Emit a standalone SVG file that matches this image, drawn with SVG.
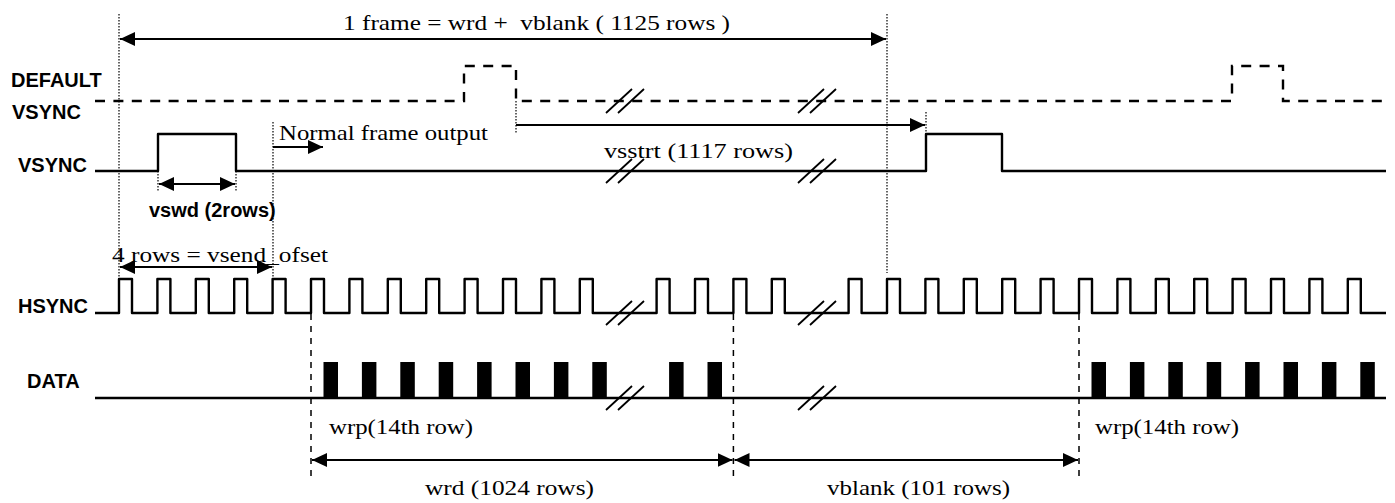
<svg xmlns="http://www.w3.org/2000/svg" width="1395" height="503" viewBox="0 0 1395 503">
<style>
.sig{fill:none;stroke:#000;stroke-width:2.4;stroke-linejoin:round}
.dsig{fill:none;stroke:#000;stroke-width:2.4;stroke-dasharray:10 8.4}
.dot{fill:none;stroke:#000;stroke-width:1.2;stroke-dasharray:1.5 1.5}
.dash{fill:none;stroke:#000;stroke-width:1.5;stroke-dasharray:6 6}
.arr{fill:none;stroke:#000;stroke-width:2}
.brk{fill:none;stroke:#000;stroke-width:1.8}
.lbl{font-family:"Liberation Sans",Arial,sans-serif;font-weight:bold;font-size:20px;fill:#000}
.txt{font-family:"Liberation Serif","Times New Roman",serif;font-size:22px;fill:#000;white-space:pre}
.bar{fill:#000}
</style>
<defs>
<marker id="ah" markerUnits="userSpaceOnUse" markerWidth="16" markerHeight="14" refX="15" refY="7" orient="auto-start-reverse">
<path d="M0,0 L15,7 L0,14 z" fill="#000"/>
</marker>
</defs>

<g id="labels">
<text class="lbl" x="11" y="87">DEFAULT</text>
<text class="lbl" x="12" y="119">VSYNC</text>
<text class="lbl" x="18" y="172">VSYNC</text>
<text class="lbl" x="18" y="313">HSYNC</text>
<text class="lbl" x="27" y="388">DATA</text>
</g>

<g id="guides">
<line class="dot" x1="119" y1="14" x2="119" y2="277"/>
<line class="dot" x1="887" y1="14" x2="887" y2="273"/>
<line class="dot" x1="273" y1="122" x2="273" y2="277"/>
<line class="dot" x1="158" y1="171" x2="158" y2="192"/>
<line class="dot" x1="236" y1="171" x2="236" y2="192"/>
<line class="dot" x1="516" y1="101" x2="516" y2="133"/>
<line class="dot" x1="926" y1="112" x2="926" y2="134"/>
<line class="dash" x1="311" y1="314" x2="311" y2="476"/>
<line class="dash" x1="733.4" y1="314" x2="733.4" y2="476"/>
<line class="dash" x1="1079" y1="314" x2="1079" y2="476"/>
</g>

<g id="default-vsync">
<path class="dsig" d="M95,101 H464 V66 H516 V101 H1232 V66 H1283 V101 H1386"/>
</g>

<g id="vsync">
<path class="sig" d="M95,171 H158 V134 H236 V171 H926 V134 H1002 V171 H1386"/>
</g>

<g id="hsync">
<path class="sig" d="M95,313 H119 V279 H132 V313 H157.4 V279 H170.4 V313 H195.8 V279 H208.8 V313 H234.2 V279 H247.2 V313 H272.6 V279 H285.6 V313 H311 V279 H324 V313 H349.4 V279 H362.4 V313 H387.8 V279 H400.8 V313 H426.2 V279 H439.2 V313 H464.6 V279 H477.6 V313 H503 V279 H516 V313 H541.4 V279 H554.4 V313 H579.8 V279 H592.8 V313 H656.6 V279 H669.6 V313 H695 V279 H708 V313 H733.4 V279 H746.4 V313 H771.8 V279 H784.8 V313 H848.6 V279 H861.6 V313 H887 V279 H900 V313 H925.4 V279 H938.4 V313 H963.8 V279 H976.8 V313 H1002.2 V279 H1015.2 V313 H1040.6 V279 H1053.6 V313 H1079 V279 H1092 V313 H1117.4 V279 H1130.4 V313 H1155.8 V279 H1168.8 V313 H1194.2 V279 H1207.2 V313 H1232.6 V279 H1245.6 V313 H1271 V279 H1284 V313 H1309.4 V279 H1322.4 V313 H1347.8 V279 H1360.8 V313 H1386"/>
</g>

<g id="data">
<line class="sig" x1="95" y1="398" x2="1386" y2="398"/>
<rect class="bar" x="323.5" y="362" width="14.5" height="36"/>
<rect class="bar" x="361.9" y="362" width="14.5" height="36"/>
<rect class="bar" x="400.3" y="362" width="14.5" height="36"/>
<rect class="bar" x="438.7" y="362" width="14.5" height="36"/>
<rect class="bar" x="477.1" y="362" width="14.5" height="36"/>
<rect class="bar" x="515.5" y="362" width="14.5" height="36"/>
<rect class="bar" x="553.9" y="362" width="14.5" height="36"/>
<rect class="bar" x="592.3" y="362" width="14.5" height="36"/>
<rect class="bar" x="669.1" y="362" width="14.5" height="36"/>
<rect class="bar" x="707.5" y="362" width="14.5" height="36"/>
<rect class="bar" x="1091.5" y="362" width="14.5" height="36"/>
<rect class="bar" x="1129.9" y="362" width="14.5" height="36"/>
<rect class="bar" x="1168.3" y="362" width="14.5" height="36"/>
<rect class="bar" x="1206.7" y="362" width="14.5" height="36"/>
<rect class="bar" x="1245.1" y="362" width="14.5" height="36"/>
<rect class="bar" x="1283.5" y="362" width="14.5" height="36"/>
<rect class="bar" x="1321.9" y="362" width="14.5" height="36"/>
<rect class="bar" x="1360.3" y="362" width="14.5" height="36"/>
</g>

<g id="breaks">
<path class="brk" d="M606,113 L632,89 M618,113 L644,89 M798,113 L824,89 M810,113 L836,89"/>
<path class="brk" d="M606,183 L632,159 M618,183 L644,159 M798,183 L824,159 M810,183 L836,159"/>
<path class="brk" d="M606,325 L632,301 M618,325 L644,301 M798,325 L824,301 M810,325 L836,301"/>
<path class="brk" d="M606,410 L632,386 M618,410 L644,386 M798,410 L824,386 M810,410 L836,386"/>
</g>

<g id="connectors">
<line class="arr" x1="120" y1="39" x2="886" y2="39" marker-start="url(#ah)" marker-end="url(#ah)"/>
<line class="arr" x1="516" y1="125" x2="925" y2="125" marker-end="url(#ah)"/>
<line class="arr" x1="273" y1="147" x2="323" y2="147" marker-end="url(#ah)"/>
<line class="arr" x1="159" y1="184" x2="235" y2="184" marker-start="url(#ah)" marker-end="url(#ah)"/>
<line class="arr" x1="120" y1="267" x2="272" y2="267" marker-start="url(#ah)" marker-end="url(#ah)"/>
<line class="arr" x1="312" y1="460" x2="732.5" y2="460" marker-start="url(#ah)" marker-end="url(#ah)"/>
<line class="arr" x1="734.5" y1="460" x2="1078" y2="460" marker-start="url(#ah)" marker-end="url(#ah)"/>
</g>

<g id="texts">
<text class="txt" x="343" y="30" textLength="387" lengthAdjust="spacingAndGlyphs" xml:space="preserve">1 frame = wrd +  vblank ( 1125 rows )</text>
<text class="txt" x="279" y="140" textLength="209" lengthAdjust="spacingAndGlyphs">Normal frame output</text>
<text class="txt" x="604" y="158" textLength="189" lengthAdjust="spacingAndGlyphs">vsstrt (1117 rows)</text>
<text class="lbl" x="149" y="217">vswd (2rows)</text>
<text class="txt" x="112" y="262" textLength="216" lengthAdjust="spacingAndGlyphs">4 rows = vsend_ofset</text>
<text class="txt" x="329" y="434" textLength="144" lengthAdjust="spacingAndGlyphs">wrp(14th row)</text>
<text class="txt" x="1095" y="434" textLength="144" lengthAdjust="spacingAndGlyphs">wrp(14th row)</text>
<text class="txt" x="425" y="495" textLength="169" lengthAdjust="spacingAndGlyphs">wrd (1024 rows)</text>
<text class="txt" x="827" y="495" textLength="183" lengthAdjust="spacingAndGlyphs">vblank (101 rows)</text>
</g>
</svg>
